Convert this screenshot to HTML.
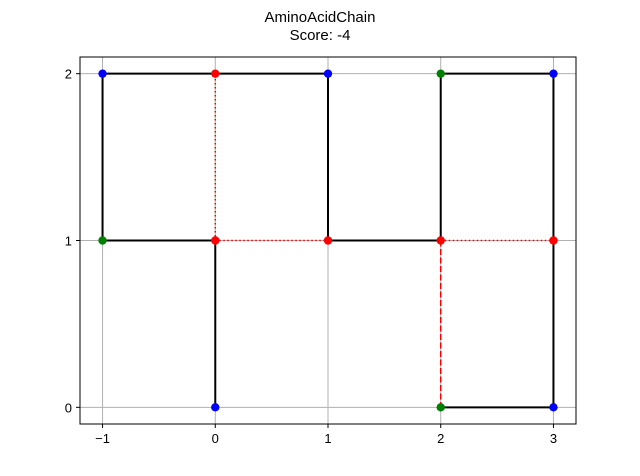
<!DOCTYPE html>
<html><head><meta charset="utf-8"><style>
body{margin:0;background:#fff;}
svg{display:block;font-family:"Liberation Sans","DejaVu Sans",sans-serif;}
</style></head><body>
<svg id="chart" width="640" height="476">
<rect width="640" height="476" fill="#fff"/>
<text x="320" y="22" text-anchor="middle" font-size="15">AminoAcidChain</text>
<text x="320" y="40" text-anchor="middle" font-size="15">Score: -4</text>
<g id="grid"></g><g id="lines"></g><g id="points"></g><g id="axes"></g>
</svg>
<script>
const xTicks=[-1,0,1,2,3];
const yTicks=[0,1,2];
const chainX=[0,0,-1,-1,0,1,1,2,2,3,3,3,2];
const chainY=[0,1,1,2,2,2,1,1,2,2,1,0,0];
const colors=['blue','red','green','blue','red','blue','red','red','green','blue','red','blue','green'];
const bondA=[1,1,7,7];
const bondB=[4,6,10,12];
const bondStyle=['dotted','dotted','dotted','dashed'];
const NS='http://www.w3.org/2000/svg';
const L=80,R=576,T=57,B=424,xmin=-1.2,xmax=3.2,ymin=-0.1,ymax=2.1;
const sx=v=>L+(v-xmin)/(xmax-xmin)*(R-L);
const sy=v=>B-(v-ymin)/(ymax-ymin)*(B-T);
function mk(tag,attrs,parent){const e=document.createElementNS(NS,tag);for(const k in attrs)e.setAttribute(k,attrs[k]);document.getElementById(parent).appendChild(e);return e;}
xTicks.forEach(v=>{
 const g=mk('line',{x1:sx(v),x2:sx(v),y1:T,y2:B,stroke:'#b0b0b0','stroke-width':1},'grid');
 
 
 const t=mk('line',{x1:sx(v),x2:sx(v),y1:B,y2:B+4,stroke:'#000'},'axes');
 
 
 const l=mk('text',{x:sx(v),y:B+19,'text-anchor':'middle','font-size':13},'axes');
 l.textContent=v<0?'\u2212'+Math.abs(v):String(v);
 
 
});
yTicks.forEach(v=>{
 const g=mk('line',{x1:L,x2:R,y1:sy(v),y2:sy(v),stroke:'#b0b0b0','stroke-width':1},'grid');
 
 
 const t=mk('line',{x1:L-4,x2:L,y1:sy(v),y2:sy(v),stroke:'#000'},'axes');
 
 
 const l=mk('text',{x:L-8,y:sy(v)+5,'text-anchor':'end','font-size':13},'axes');
 l.textContent=String(v);
 
 
});
const frame=mk('rect',{x:L,y:T,width:R-L,height:B-T,fill:'none',stroke:'#000','stroke-width':1},'axes');


for(let i=0;i<chainX.length-1;i++){
 const e=mk('line',{x1:sx(chainX[i]),y1:sy(chainY[i]),x2:sx(chainX[i+1]),y2:sy(chainY[i+1]),stroke:'#000','stroke-width':2},'lines');
 
 
}
for(let j=0;j<bondA.length;j++){
 const a=bondA[j],b=bondB[j];
 const e=mk('line',{x1:sx(chainX[a]),y1:sy(chainY[a]),x2:sx(chainX[b]),y2:sy(chainY[b]),stroke:'red','stroke-width':1.5,'stroke-dasharray':bondStyle[j]==='dotted'?'1.5,2.5':'6,2.5'},'lines');
 
 
}
chainX.forEach((x,i)=>{
 const c=mk('circle',{cx:sx(x),cy:sy(chainY[i]),r:4.2,fill:colors[i]},'points');
 
 
});
</script>
</body></html>
